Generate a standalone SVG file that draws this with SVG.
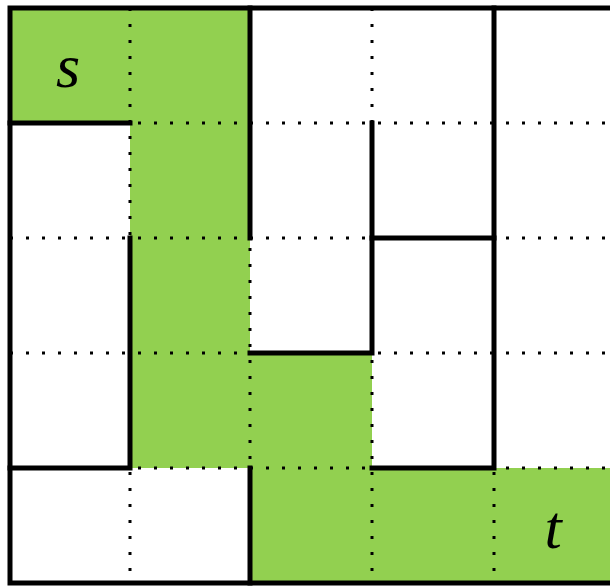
<svg xmlns="http://www.w3.org/2000/svg" width="610" height="586" viewBox="0 0 610 586">
<style>
.cell{fill:#92d050}
.dot{stroke:#000;stroke-width:3;stroke-dasharray:3 13;fill:none}
.wall{stroke:#000;stroke-width:5;fill:none;stroke-linecap:square}
.lbl{font-family:"Liberation Serif",serif;font-style:italic;font-size:62px;fill:#000;text-anchor:middle}
</style>
<rect width="610" height="586" fill="#fff"/>
<g id="path-cells">
<rect class="cell" x="10" y="8" width="120" height="115"/>
<rect class="cell" x="130" y="8" width="120" height="115"/>
<rect class="cell" x="130" y="123" width="120" height="115"/>
<rect class="cell" x="130" y="238" width="120" height="115"/>
<rect class="cell" x="130" y="353" width="120" height="115"/>
<rect class="cell" x="250" y="353" width="122" height="115"/>
<rect class="cell" x="250" y="468" width="122" height="115"/>
<rect class="cell" x="372" y="468" width="122" height="115"/>
<rect class="cell" x="494" y="468" width="122" height="115"/>
</g>
<g id="grid">
<line class="dot" x1="130" y1="8" x2="130" y2="583"/>
<line class="dot" x1="250" y1="8" x2="250" y2="583"/>
<line class="dot" x1="372" y1="8" x2="372" y2="583"/>
<line class="dot" x1="494" y1="8" x2="494" y2="583"/>
<line class="dot" x1="10" y1="123" x2="610" y2="123"/>
<line class="dot" x1="10" y1="238" x2="610" y2="238"/>
<line class="dot" x1="10" y1="353" x2="610" y2="353"/>
<line class="dot" x1="10" y1="468" x2="610" y2="468"/>
</g>
<g id="walls">
<path class="wall" d="M10 8H615M10 8V583H615"/>
<path class="wall" d="M10 123H130"/>
<path class="wall" d="M250 8V238"/>
<path class="wall" d="M372 123V353H250"/>
<path class="wall" d="M372 238H494"/>
<path class="wall" d="M494 8V468H372"/>
<path class="wall" d="M130 238V468H10"/>
<path class="wall" d="M250 468V583"/>
</g>
<g id="labels">
<text class="lbl" x="68" y="87">s</text>
<text class="lbl" x="553" y="548">t</text>
</g>
</svg>
